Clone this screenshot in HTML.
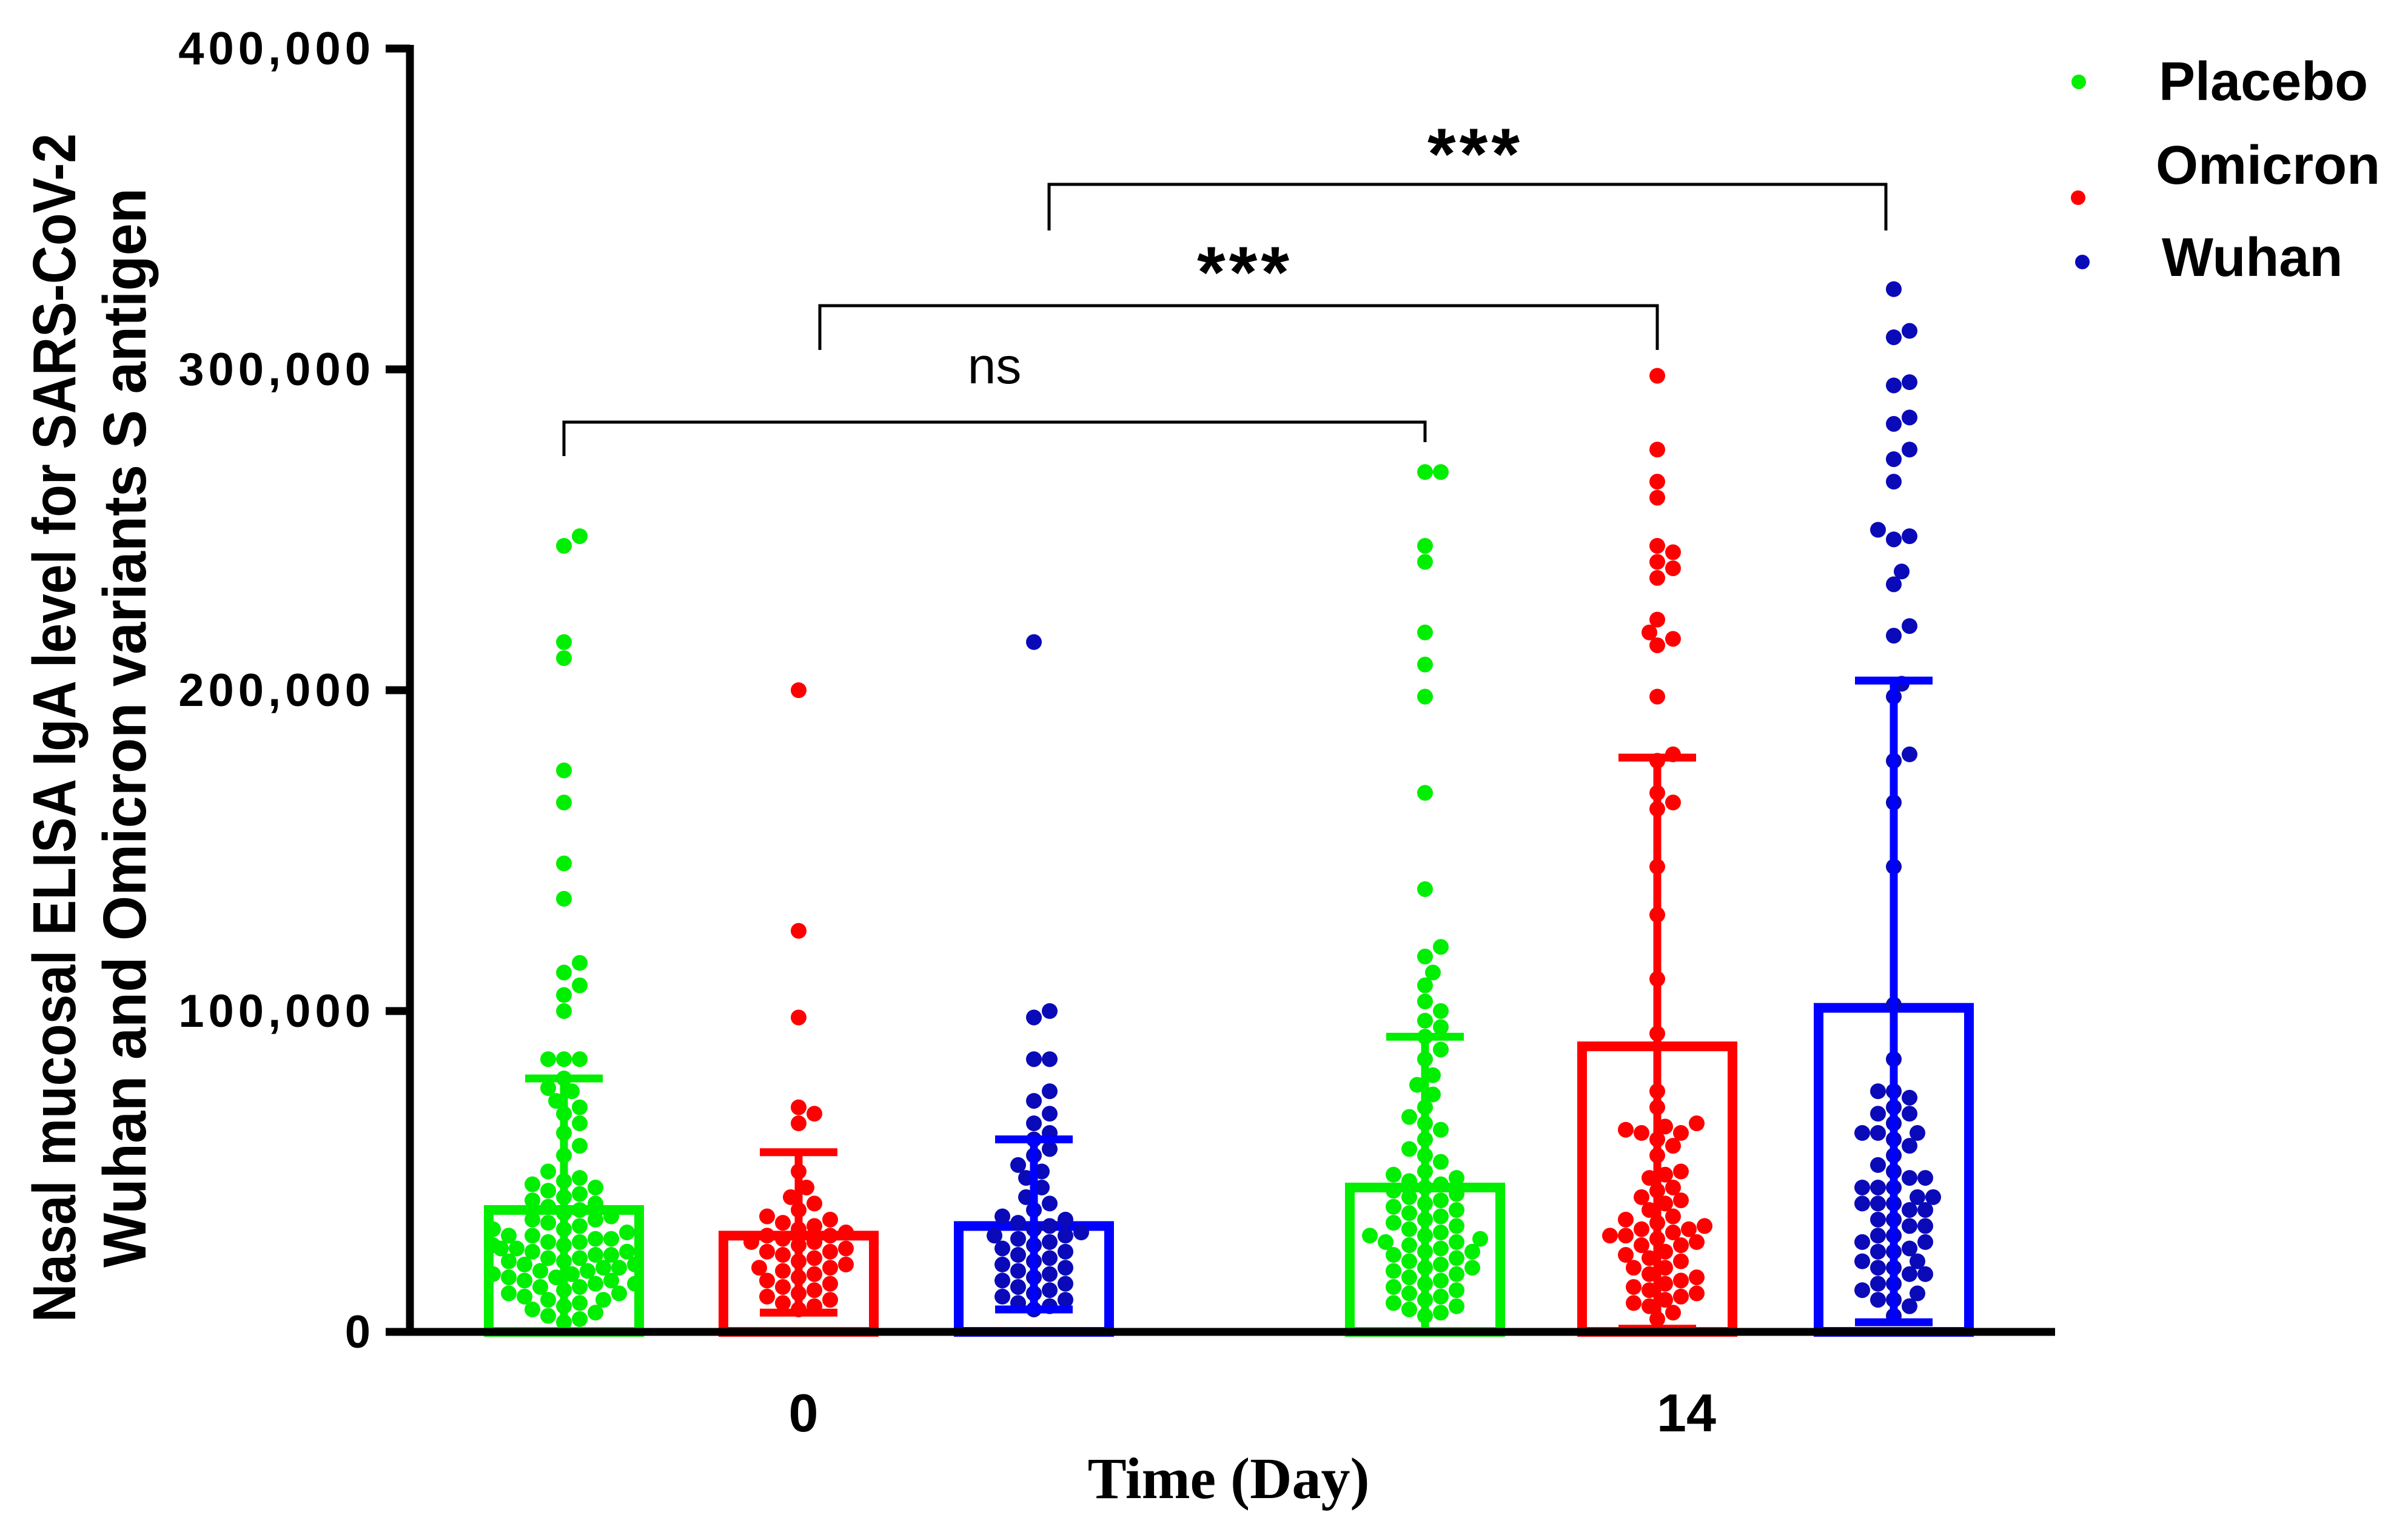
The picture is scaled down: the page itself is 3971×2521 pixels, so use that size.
<!DOCTYPE html>
<html><head><meta charset="utf-8"><style>
html,body{margin:0;padding:0;background:#fff;}
svg{display:block;}
</style></head><body>
<svg id="chart" xmlns="http://www.w3.org/2000/svg" width="3971" height="2521" viewBox="0 0 3971 2521">
<rect width="3971" height="2521" fill="#fff"/>
<g id="plot"></g>
</svg>
<script>
// ---- data ----
const groups = ["Placebo","Omicron","Wuhan"];
const days = ["0","14"];
const yTicks = [0,100000,200000,300000,400000];
const yTickLabels = ["0","100,000","200,000","300,000","400,000"];
const barMeans = [38000,30000,33000,45000,89000,101000];
const errUpper = [79000,56000,60000,92000,179000,203000];
const errLower = [0,6000,7000,0,1000,3000];
const ptsP0 = [248,245,215,210,175,165,146,135,115,112,108,105,100,85,85,85,79,76,75,72,70,68,65,62,58,55,50,48,47,46,45,44,43,42,41,40,39,38,37,36,35,35,34,33,32,32,31,30,30,29,29,28,28,27,27,26,26,25,25,24,24,23,23,22,22,21,21,20,20,19,19,18,18,17,17,16,16,15,15,14,14,13,12,12,11,10,10,9,8,7,6,5,4,3];
const ptsO0 = [200,125,98,70,68,65,50,45,42,40,38,36,35,34,33,32,31,30,30,29,28,28,27,26,25,25,24,23,22,21,20,20,19,18,17,16,15,14,13,12,11,10,9,8,7];
const ptsW0 = [215,100,98,85,85,75,72,68,65,62,60,57,55,52,50,48,45,42,40,38,36,35,34,33,32,31,30,30,29,28,27,26,25,24,23,22,21,20,19,18,17,16,15,14,13,12,11,10,9,8,7];
const ptsP14 = [268,268,245,240,218,208,198,168,138,120,117,112,108,103,100,97,95,92,88,85,80,77,74,70,67,65,63,60,57,55,53,50,49,48,47,46,45,44,43,42,41,40,39,38,37,36,35,34,33,32,31,30,30,29,28,28,27,26,25,25,24,23,22,21,20,20,19,18,17,16,15,14,13,12,11,10,9,8,7,6,5];
const ptsO14 = [298,275,265,260,245,243,240,238,235,222,218,216,214,198,180,178,168,165,163,145,130,110,93,75,70,65,64,63,62,62,60,58,55,50,49,48,45,44,42,41,40,38,36,35,34,33,32,32,31,30,30,29,28,27,27,25,24,23,22,20,20,18,17,16,15,14,13,12,11,10,9,8,6,4];
const ptsW14 = [325,312,310,296,295,285,283,275,272,265,250,248,247,237,233,220,217,202,198,180,178,165,145,102,85,75,75,73,70,68,68,65,62,62,62,60,58,55,52,50,48,48,45,45,45,42,42,40,40,40,38,38,35,35,33,33,30,30,28,28,26,25,25,22,22,20,20,18,18,15,15,13,12,10,10,8,5];
const allPts = [ptsP0,ptsO0,ptsW0,ptsP14,ptsO14,ptsW14];

// ---- layout ----
const NS="http://www.w3.org/2000/svg";
const plot=document.getElementById('plot');
const X0=676, X1=3389, Y0=2196, PXPER=529/100000;
const y=v=>Y0-v*PXPER;
const barCenters=[930,1317,1705,2350,2733,3123];
const x=i=>barCenters[i];
const barW=248;
const colors=["#00ee00","#ff0000","#0000ff"];
const dotColors=["#00ee00","#ff0000","#0a0ab8"];
function el(tag,attrs,parent){const e=document.createElementNS(NS,tag);for(const k in attrs)e.setAttribute(k,attrs[k]);(parent||plot).appendChild(e);return e;}

// bars
for(let i=0;i<6;i++){
  const c=colors[i%3];
  const b=el('rect',{x:x(i)-barW/2,y:y(barMeans[i]),width:barW,height:Y0-y(barMeans[i]),fill:'none',stroke:c,'stroke-width':16});
  
  
}
// points (beeswarm)
const R=13;
for(let i=0;i<6;i++){
  const pts=allPts[i].map(v=>v*1000).sort((a,b)=>a-b);
  const placed=[];
  const g=el('g',{fill:dotColors[i%3]});
  
  
  pts.forEach(v=>{
    const py=y(v);
    let best=0;
    const cands=[0];for(let k=1;k<10;k++){cands.push(k*13,-k*13);}
    for(const off of cands){
      best=off;
      if(placed.every(p=>(p[0]-off)**2+(p[1]-py)**2>=(2*R*0.9)**2)) break;
    }
    placed.push([best,py]);
    const c=el('circle',{cx:x(i)+best,cy:py,r:R},g);
    
    
  });
}
// error bars
for(let i=0;i<6;i++){
  const c=colors[i%3];
  const g=el('g',{stroke:c,'stroke-width':13});
  
  
  el('line',{x1:x(i),x2:x(i),y1:y(errUpper[i]),y2:y(errLower[i])},g);
  el('line',{x1:x(i)-64,x2:x(i)+64,y1:y(errUpper[i]),y2:y(errUpper[i])},g);
  el('line',{x1:x(i)-64,x2:x(i)+64,y1:y(errLower[i]),y2:y(errLower[i])},g);
}
// axes
const ax=el('g',{stroke:'#000','stroke-width':13});


el('line',{x1:X0,x2:X0,y1:y(400000)-6,y2:Y0+6},ax);
el('line',{x1:X0-6,x2:X1,y1:Y0,y2:Y0},ax);
yTicks.forEach((t,k)=>{
  el('line',{x1:X0-40,x2:X0,y1:y(t),y2:y(t)},ax);
  const tx=el('text',{x:X0-58,y:y(t)+26,'text-anchor':'end','font-family':'Liberation Sans, sans-serif','font-weight':'bold','font-size':76,'letter-spacing':7,fill:'#000'});
  tx.textContent=yTickLabels[k];
  
  
});
const dayCenters=[1325,2781];
days.forEach((d,k)=>{
  const tx=el('text',{x:dayCenters[k],y:2360,'text-anchor':'middle','font-family':'Liberation Sans, sans-serif','font-weight':'bold','font-size':88,fill:'#000'});
  tx.textContent=d;
  
  
});
</script>
<svg style="position:absolute;left:0;top:0" width="3971" height="2521" viewBox="0 0 3971 2521">
<text x="2026" y="2470" text-anchor="middle" font-family="Liberation Serif, serif" font-weight="bold" font-size="96">Time (Day)</text>
<g font-family="Liberation Sans, sans-serif" font-weight="bold" font-size="100">
<text transform="translate(124,1200) rotate(-90)" text-anchor="middle" textLength="1960" lengthAdjust="spacingAndGlyphs">Nasal mucosal ELISA IgA level for SARS-CoV-2</text>
<text transform="translate(240,1200) rotate(-90)" text-anchor="middle" textLength="1780" lengthAdjust="spacingAndGlyphs">Wuhan and Omicron variants S antigen</text>
</g>
<g stroke="#000" stroke-width="5" fill="none">
<polyline points="930,752 930,696 2350,696 2350,729"/>
<polyline points="1352,577 1352,504 2733,504 2733,577"/>
<polyline points="1730,380 1730,304 3110,304 3110,380"/>
</g>
<text x="1640" y="632" text-anchor="middle" font-family="Liberation Sans, sans-serif" font-size="84">ns</text>
<text x="2053" y="490" text-anchor="middle" font-family="Liberation Sans, sans-serif" font-weight="bold" font-size="120" letter-spacing="6">***</text>
<text x="2433" y="295" text-anchor="middle" font-family="Liberation Sans, sans-serif" font-weight="bold" font-size="120" letter-spacing="6">***</text>
<g font-family="Liberation Sans, sans-serif" font-weight="bold" font-size="90">
<circle cx="3428" cy="135" r="12" fill="#00ee00"/><text x="3560" y="165">Placebo</text>
<circle cx="3427" cy="326" r="12" fill="#ff0000"/><text x="3555" y="303">Omicron</text>
<circle cx="3434" cy="432" r="12" fill="#0a0ab8"/><text x="3565" y="455">Wuhan</text>
</g>
</svg>
</body></html>
